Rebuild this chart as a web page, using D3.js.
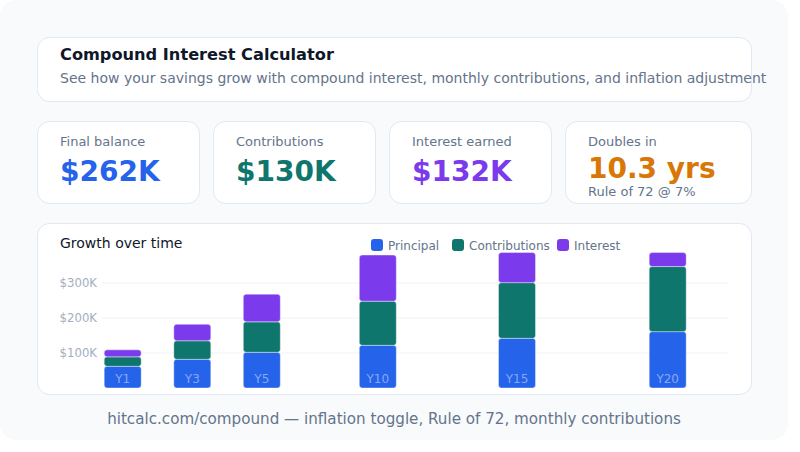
<!DOCTYPE html>
<html><head><meta charset="utf-8">
<script src="https://cdn.jsdelivr.net/npm/d3@7"></script>
<style>html,body{margin:0;padding:0;background:#fff;}svg{display:block;font-family:"DejaVu Sans",sans-serif;}</style>
</head><body>
<svg id="c" width="800" height="452"></svg>
<script>
const years = ["Y1","Y3","Y5","Y10","Y15","Y20"];
const yearNums = [1,3,5,10,15,20];
const principal = [62000, 82000, 102000, 122000, 142000, 161000];
const contributions = [27000, 53000, 87000, 126000, 159000, 186000];
const interest = [20000, 47000, 79000, 132000, 86000, 40000];
const seriesNames = ["Principal","Contributions","Interest"];
const seriesColors = ["#2563eb","#0f766e","#7c3aed"];
const yTicks = [100000, 200000, 300000];
const kpiLabels = ["Final balance","Contributions","Interest earned","Doubles in"];
const kpiValues = ["$262K","$130K","$132K","10.3 yrs"];
const kpiColors = ["#2563eb","#0f766e","#7c3aed","#d97706"];

const svg = d3.select("#c");
svg.append("rect").attr("x",0).attr("y",0).attr("width",788).attr("height",440).attr("rx",16).attr("fill","#f8fafc");

function card(x,y,w,h){
  svg.append("rect").attr("x",x+0.5).attr("y",y+0.5).attr("width",w).attr("height",h).attr("rx",12)
    .attr("fill","#fff").attr("stroke","#e2e8f0").attr("stroke-width",1);
}
// header
card(37,37,714,64);
svg.append("text").attr("x",60).attr("y",60).attr("font-size",16.2).attr("font-weight","bold").attr("fill","#0f172a").text("Compound Interest Calculator");
svg.append("text").attr("x",60).attr("y",83).attr("font-size",14).attr("fill","#64748b").text("See how your savings grow with compound interest, monthly contributions, and inflation adjustment");

// KPI cards
const kx = [37,213,389,565], kw=[162,162,162,186];
kpiLabels.forEach((l,i)=>{
  card(kx[i],121,kw[i],82);
  svg.append("text").attr("x",kx[i]+23).attr("y",146).attr("font-size",13).attr("fill","#64748b").text(l);
  svg.append("text").attr("x",kx[i]+23).attr("y",i===3?178:181).attr("font-size",28).attr("font-weight","bold").attr("fill",kpiColors[i]).text(kpiValues[i]);
});
svg.append("text").attr("x",588).attr("y",196).attr("font-size",13).attr("fill","#64748b").text("Rule of 72 @ 7%");

// chart card
card(37,223,714,171);
svg.append("text").attr("x",60).attr("y",248).attr("font-size",14).attr("fill","#0f172a").text("Growth over time");

const y = d3.scaleLinear().domain([0,400000]).range([388,248]);
const x = d3.scaleLinear().domain(yearNums).range([122.7,192.3,261.8,377.8,517,667.7]);
const bw = 37;

const g = svg.append("g");
g.selectAll("line.grid").data(yTicks).join("line").attr("class","grid")
  .attr("x1",102).attr("x2",728).attr("y1",d=>y(d)).attr("y2",d=>y(d))
  .attr("stroke","#eef2f7").attr("stroke-width",1);
g.selectAll("text.yt").data(yTicks).join("text").attr("class","yt")
  .attr("x",97).attr("y",d=>y(d)+4).attr("text-anchor","end").attr("font-size",11.7).attr("fill","#a3aec0")
  .text(d=>"$"+(d/1000)+"K");

const rows = years.map((yr,i)=>({yr, n:yearNums[i], Principal:principal[i], Contributions:contributions[i], Interest:interest[i]}));
const stack = d3.stack().keys(seriesNames)(rows);
stack.forEach((s,si)=>{
  g.selectAll("rect.s"+si).data(s).join("rect").attr("class","s"+si)
    .attr("x",d=>x(d.data.n)-bw/2).attr("width",bw)
    .attr("y",d=>y(d[1])).attr("height",d=>y(d[0])-y(d[1]))
    .attr("rx",3).attr("fill",seriesColors[si])
    .attr("stroke","#ffffff").attr("stroke-opacity",0.5).attr("stroke-width",0.8);
});
g.selectAll("text.xl").data(rows).join("text").attr("class","xl")
  .attr("x",d=>x(d.n)).attr("y",383).attr("text-anchor","middle").attr("font-size",12)
  .attr("fill","#ffffff").attr("fill-opacity",0.45).text(d=>d.yr);

// legend
const lx = [371,452,557];
seriesNames.forEach((s,i)=>{
  svg.append("rect").attr("x",lx[i]).attr("y",239).attr("width",12).attr("height",12).attr("rx",3).attr("fill",seriesColors[i]);
  svg.append("text").attr("x",lx[i]+17).attr("y",250).attr("font-size",12).attr("fill","#64748b").text(s);
});

svg.append("text").attr("x",394).attr("y",424).attr("text-anchor","middle").attr("font-size",15.15).attr("fill","#64748b")
  .text("hitcalc.com/compound — inflation toggle, Rule of 72, monthly contributions");
</script>
</body></html>
